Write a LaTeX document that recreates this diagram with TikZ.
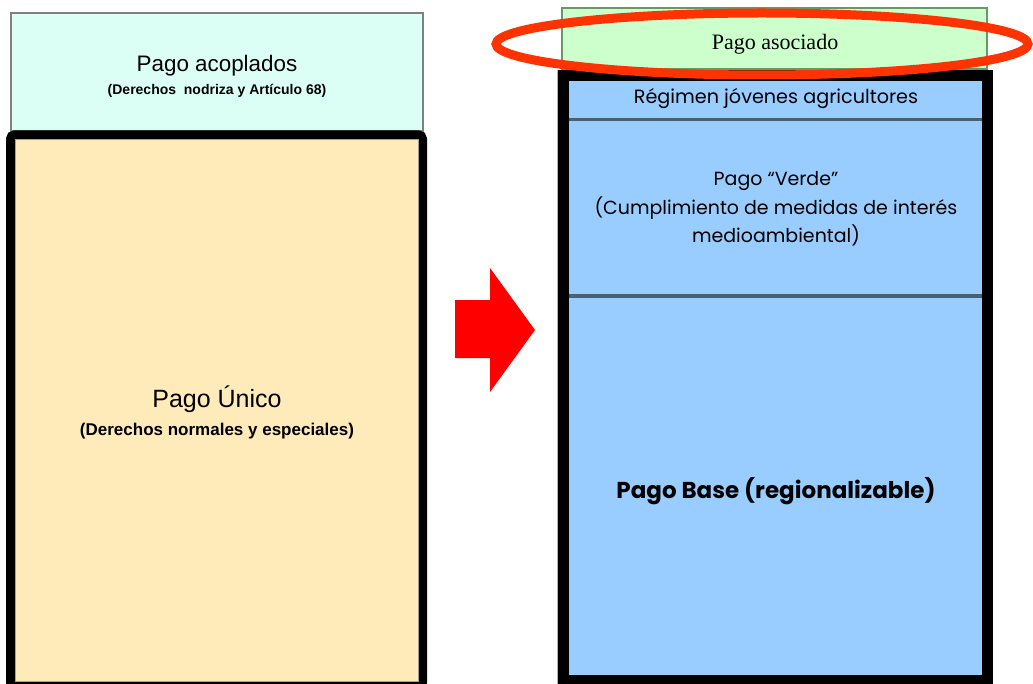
\documentclass[tikz,border=0pt]{standalone}
\usepackage{fontspec}
\usepackage{tikz}
\usetikzlibrary{shapes,arrows,shapes.misc}
\usetikzlibrary{positioning}
\newfontfamily\arialf{Liberation Sans}
\newfontfamily\gothicf{Poppins}
\newfontfamily\cambf{Liberation Serif}
\definecolor{menta}{RGB}{220,255,245}
\definecolor{crema}{RGB}{255,235,185}
\definecolor{verdeclaro}{RGB}{204,255,204}
\definecolor{azul}{RGB}{153,204,255}
\definecolor{lineaazul}{RGB}{75,95,115}
\definecolor{rojo}{RGB}{255,51,0}
\tikzset{
	banda/.style={fill=azul, draw=none, inner sep=0pt},
	texto/.style={inner sep=0pt, align=center}
}

\begin{document}
\begin{tikzpicture}[x=0.5pt,y=-0.5pt]
		\useasboundingbox (0,0) rectangle (1033,684);
		% lado izquierdo
		\draw[fill=menta, draw=gray, line width=0.6pt] (11,13) rectangle (423,131);
		\draw[fill=crema, line width=4.5pt, rounded corners=2pt] (10.5,135) rectangle (422.5,686);
		\draw[gray!70!crema, line width=0.5pt] (15,140) rectangle (418,681);
		\node[texto, font=\arialf\fontsize{11.2}{13}\selectfont] (acoplados) at (217,66) {Pago acoplados};
		\node[texto, font=\arialf\bfseries\fontsize{7}{8}\selectfont] (acopladosSub) at (217,91) {(Derechos\ \ nodriza y Artículo 68)};
		\node[texto, font=\arialf\fontsize{12.5}{14}\selectfont] (unico) at (217,399) {Pago Único};
		\node[texto, font=\arialf\bfseries\fontsize{8.5}{10}\selectfont] (unicoSub) at (217,431) {(Derechos normales y especiales)};
		% flecha
		\fill[red] (455,300) -- (490,300) -- (490,268) -- (535,330) -- (490,392) -- (490,358) -- (455,358) -- cycle;
		% lado derecho
		\draw[gray!60, line width=0.6pt] (557.5,70) -- (557.5,684);
		\draw[fill=verdeclaro, draw=gray!80!green, line width=0.6pt] (562,8) rectangle (987,69);
		\draw[fill=azul, line width=5.5pt] (563.5,75.5) rectangle (987,680);
		\draw[lineaazul, line width=1.5pt] (569,120) -- (982,120);
		\draw[lineaazul, line width=1.5pt] (569,296) -- (982,296);
		\node[texto, font=\cambf\fontsize{11}{12}\selectfont] (asociado) at (775,44) {Pago asociado};
		\node[texto, font=\gothicf\fontsize{9.6}{10}\selectfont] (jovenes) at (776,99) {Régimen jóvenes agricultores};
		\node[texto, font=\gothicf\fontsize{9.5}{14.25}\selectfont] (verde) at (776,209) {Pago “Verde”\\(Cumplimiento de medidas de interés\\medioambiental)};
		\node[texto, font=\gothicf\bfseries\fontsize{11.5}{13}\selectfont] (base) at (776,491) {Pago Base (regionalizable)};
		% resaltado
		\draw[rojo, line width=4.5pt] (762,44) ellipse [x radius=266, y radius=31];
	\end{tikzpicture}
\end{document}
